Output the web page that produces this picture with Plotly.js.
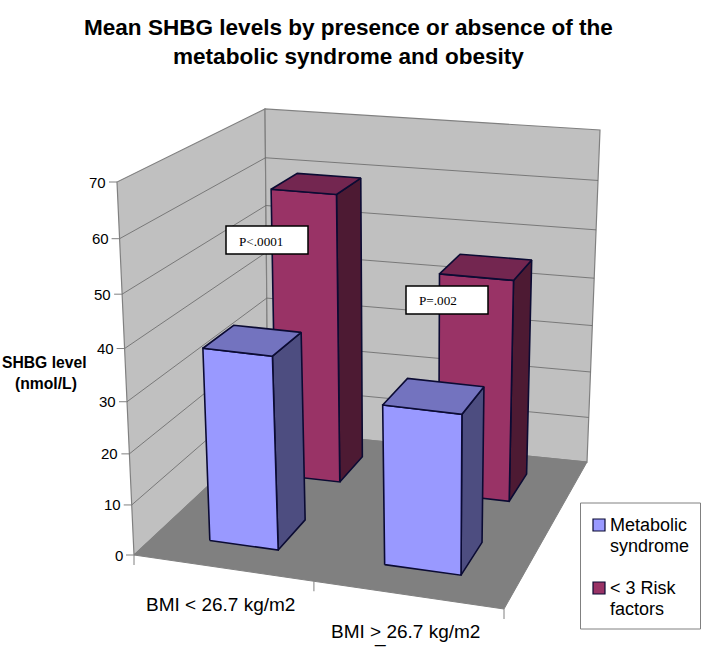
<!DOCTYPE html>
<html><head><meta charset="utf-8">
<script src="https://cdn.plot.ly/plotly-3.0.1.min.js"></script>
<style>html,body{margin:0;padding:0;background:#fff}#c{width:702px;height:661px}</style></head>
<body><div id="c"></div>
<script>
const categories = ['BMI < 26.7 kg/m2', 'BMI > 26.7 kg/m2'];
const metabolicSyndrome = [38, 31.2];
const riskFactors = [59.5, 45.6];
const yTicks = [0, 10, 20, 30, 40, 50, 60, 70];
const seriesNames = ['Metabolic syndrome', '< 3 Risk factors'];
const pValues = ['P<.0001', 'P=.002'];

// projection of the chart box on the page
const floorQuad = [[134,555],[504,609],[587,462],[268,430]];
const topQuad = [[117,182],[511,222],[600,130],[265,109]];
const zMax = 70, zBow = 0.93;
const barHalfU = 0.2, catCentre = [0.52, 1.51], seriesShift = [0, 0.004];
const seriesV = [[0.15,0.36],[0.65,0.86]];
const catTicks = [0, 1.03, 2];

function hom(q){
  const [a,b,c,d]=q;
  const dx1=b[0]-c[0],dx2=d[0]-c[0],sx=a[0]-b[0]+c[0]-d[0];
  const dy1=b[1]-c[1],dy2=d[1]-c[1],sy=a[1]-b[1]+c[1]-d[1];
  const den=dx1*dy2-dx2*dy1;
  const g=(sx*dy2-dx2*sy)/den,h=(dx1*sy-sx*dy1)/den;
  const A=b[0]-a[0]+g*b[0],B=d[0]-a[0]+h*d[0],D=b[1]-a[1]+g*b[1],E=d[1]-a[1]+h*d[1];
  return (s,t)=>{const w=g*s+h*t+1;return [(A*s+B*t+a[0])/w,(D*s+E*t+a[1])/w];};
}
const H0=hom(floorQuad),H1=hom(topQuad);
function P(u,v,z){
  const s=z/zMax,k=s*zBow/(1+s*(zBow-1));
  const f=H0(u/2,v),t=H1(u/2,v);
  return [f[0]+(t[0]-f[0])*k,f[1]+(t[1]-f[1])*k];
}
function poly(pts,fill,line,width,name){
  const c=pts.concat([pts[0]]);
  return {type:'scatter',mode:'lines',x:c.map(p=>p[0]),y:c.map(p=>p[1]),fill:'toself',fillcolor:fill,
    line:{color:line,width:width},hoverinfo:'skip',showlegend:false,name:name||''};
}
function segs(list,color,width){
  const x=[],y=[];
  list.forEach(([p,q])=>{x.push(p[0],q[0],null);y.push(p[1],q[1],null);});
  return {type:'scatter',mode:'lines',x,y,line:{color,width},hoverinfo:'skip',showlegend:false};
}
const traces=[];
traces.push(poly([P(0,0,0),P(0,1,0),P(0,1,70),P(0,0,70)],'#c0c0c0','#808080',1.2));
traces.push(poly([P(0,1,0),P(2,1,0),P(2,1,70),P(0,1,70)],'#c0c0c0','#808080',1.2));
traces.push(poly([P(0,0,0),P(2,0,0),P(2,1,0),P(0,1,0)],'#808080','#808080',1));
traces.push(segs(yTicks.slice(1,-1).flatMap(z=>[[P(0,0,z),P(0,1,z)],[P(0,1,z),P(2,1,z)]]),'#666666',0.8));
// tick marks
traces.push(segs(yTicks.map(z=>{const p=P(0,0,z);return [p,[p[0]-8,p[1]]];}),'#808080',1));
traces.push(segs(catTicks.map(u=>{const p=P(u,0,0);return [p,[p[0],p[1]+10]];}),'#808080',1));

function bar(u,vr,z,cols,name){
  const u0=u-barHalfU,u1=u+barHalfU,[v0,v1]=vr,edge='#0b0b33';
  traces.push(poly([P(u1,v0,0),P(u1,v1,0),P(u1,v1,z),P(u1,v0,z)],cols[1],edge,1.6,name));
  traces.push(poly([P(u0,v0,0),P(u1,v0,0),P(u1,v0,z),P(u0,v0,z)],cols[0],edge,1.6,name));
  traces.push(poly([P(u0,v0,z),P(u1,v0,z),P(u1,v1,z),P(u0,v1,z)],cols[2],edge,1.6,name));
}
const blue=['#9999ff','#4d4d80','#7373bf'],red=['#993366','#4d1a33','#732650'];
riskFactors.forEach((z,i)=>bar(catCentre[i]+seriesShift[1],seriesV[1],z,red,seriesNames[1]));
metabolicSyndrome.forEach((z,i)=>bar(catCentre[i]+seriesShift[0],seriesV[0],z,blue,seriesNames[0]));

const sans='"Liberation Sans", Arial, sans-serif',serif='"Liberation Serif", serif';
function T(text,x,y,size,anchor,extra){
  return Object.assign({text,x,y,xref:'x',yref:'y',showarrow:false,xanchor:anchor||'left',yanchor:'middle',
    font:{family:sans,size:size,color:'#000'}},extra||{});
}
const ann=[];
yTicks.forEach(z=>{const p=P(0,0,z);ann.push(T(String(z),p[0]-9,p[1],15,'right'));});
ann.push(T('<b>SHBG level</b>',44.5,362,15.7,'center'),T('<b>(nmol/L)</b>',45.5,383,15.7,'center'));
ann.push(T(categories[0],144,604,19),T(categories[1],329,631,19),T('_',372,636,19));
ann.push(T(pValues[0],237,241,13.2,'left',{font:{family:serif,size:13.2,color:'#000'}}));
ann.push(T(pValues[1],417,300,13.2,'left',{font:{family:serif,size:13.2,color:'#000'}}));
ann.push(T('Metabolic',608,525,18),T('syndrome',608,546,18),T('< 3 Risk',608,588,18),T('factors',608,609,18));
const titleLines=['Mean SHBG levels by presence or absence of the','metabolic syndrome and obesity'];
ann.push(T('<b>'+titleLines[0]+'</b>',348.5,27,22.55,'center'),T('<b>'+titleLines[1]+'</b>',348.5,56,22.55,'center'));

const rect=(x0,y0,x1,y1,fill,line,w)=>({type:'rect',xref:'x',yref:'y',x0,y0,x1,y1,fillcolor:fill,line:{color:line,width:w},layer:'above'});
const shapes=[
  rect(226,226,308,254,'#fff','#000',1.5),
  rect(406,286,488,314,'#fff','#000',1.5),
  rect(580.5,503,700.5,629,'#fff','#808080',1),
  rect(593,519,605,531,blue[0],'#0b0b33',1.2),
  rect(593,582,605,594,red[0],'#0b0b33',1.2)
];
Plotly.newPlot('c',traces,{
  width:702,height:661,margin:{l:0,r:0,t:0,b:0},paper_bgcolor:'#fff',plot_bgcolor:'#fff',showlegend:false,
  xaxis:{range:[0,702],visible:false,fixedrange:true},
  yaxis:{range:[661,0],visible:false,fixedrange:true},
  annotations:ann,shapes:shapes
},{displayModeBar:false,staticPlot:true});
</script></body></html>
